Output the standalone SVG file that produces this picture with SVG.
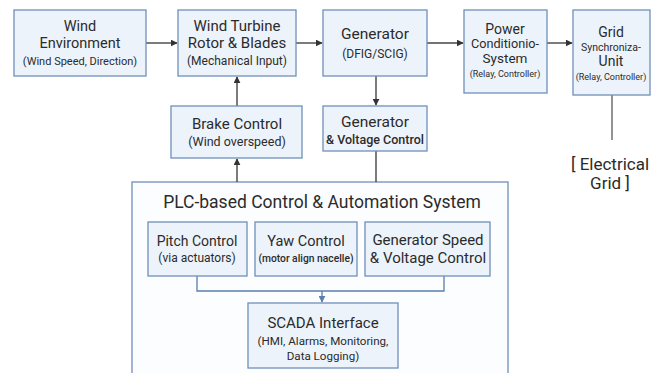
<svg xmlns="http://www.w3.org/2000/svg" width="651" height="373" viewBox="0 0 651 373">
<defs>
<style>
.box{fill:#edf3fb;stroke:#6f8fb8;stroke-width:1.3}
.plc{fill:#fbfdff;stroke:#6f8fb8;stroke-width:1.3}
text{font-family:Roboto,"Liberation Sans",sans-serif;fill:#2b2b2b;text-anchor:middle}
.t{font-size:15px}
.s{font-size:11px}
.xs{font-size:9px}
.c{fill:none;stroke:#444;stroke-width:1.4}
.cb{fill:none;stroke:#5a7fae;stroke-width:1.3}
</style>
<marker id="ah" viewBox="0 0 10 10" refX="9" refY="5" markerWidth="7" markerHeight="7" orient="auto" markerUnits="userSpaceOnUse">
<path d="M0,0L10,5L0,10z" fill="#333"/>
</marker>
<marker id="ahb" viewBox="0 0 10 10" refX="9" refY="5" markerWidth="7" markerHeight="7" orient="auto" markerUnits="userSpaceOnUse">
<path d="M0,0L10,5L0,10z" fill="#5a7fae"/>
</marker>
</defs>
<rect width="651" height="373" fill="#fff"/>

<g id="plc">
<rect class="plc" x="132" y="182" width="376" height="200"/>
<text x="322" y="208" style="font-size:17.5px">PLC-based Control &amp; Automation System</text>
</g>

<g id="connectors">
<line class="c" x1="146" y1="43" x2="177" y2="43" marker-end="url(#ah)"/>
<line class="c" x1="296" y1="43" x2="322" y2="43" marker-end="url(#ah)"/>
<line class="c" x1="427" y1="43" x2="463" y2="43" marker-end="url(#ah)"/>
<line class="c" x1="547" y1="43" x2="572" y2="43" marker-end="url(#ah)"/>
<line class="c" x1="237" y1="106" x2="237" y2="77" marker-end="url(#ah)"/>
<line class="c" x1="237" y1="182" x2="237" y2="159" marker-end="url(#ah)"/>
<line class="c" x1="376" y1="76" x2="376" y2="105" marker-end="url(#ah)"/>
<line class="c" x1="376" y1="151" x2="376" y2="182"/>
<line class="c" x1="612" y1="95" x2="612" y2="140" style="stroke:#666"/>
<path class="cb" d="M197,276V291H444V276"/>
<line class="cb" x1="322" y1="291" x2="322" y2="302" marker-end="url(#ahb)"/>
</g>

<g id="wind-environment">
<rect class="box" x="14" y="10" width="132" height="66"/>
<text x="80" y="31" style="font-size:14.5px">Wind</text>
<text x="80" y="48" style="font-size:14.5px">Environment</text>
<text class="s" x="80" y="65">(Wind Speed, Direction)</text>
</g>

<g id="wind-turbine">
<rect class="box" x="178" y="10" width="118" height="66"/>
<text class="t" x="237" y="31">Wind Turbine</text>
<text class="t" x="237" y="48">Rotor &amp; Blades</text>
<text x="237" y="65" style="font-size:12px">(Mechanical Input)</text>
</g>

<g id="generator">
<rect class="box" x="323" y="10" width="104" height="66"/>
<text x="375" y="39" style="font-size:15.5px">Generator</text>
<text x="375" y="58" style="font-size:12px">(DFIG/SCIG)</text>
</g>

<g id="power-conditioning">
<rect class="box" x="464" y="10" width="83" height="83"/>
<text x="505" y="34" style="font-size:14px">Power</text>
<text x="505" y="48" style="font-size:12.7px">Conditionio-</text>
<text x="505" y="63" style="font-size:13.5px">System</text>
<text class="xs" x="505" y="77">(Relay, Controller)</text>
</g>

<g id="grid-sync">
<rect class="box" x="573" y="10" width="77" height="85"/>
<text x="611" y="37" style="font-size:14px">Grid</text>
<text x="611" y="51" style="font-size:10.5px">Synchroniza-</text>
<text x="611" y="66" style="font-size:14px">Unit</text>
<text class="xs" x="611" y="80">(Relay, Controller)</text>
</g>

<g id="electrical-grid">
<text x="610" y="170" style="font-size:17px">[ Electrical</text>
<text x="610" y="189" style="font-size:17px">Grid ]</text>
</g>

<g id="brake-control">
<rect class="box" x="171" y="106" width="131" height="52"/>
<text class="t" x="237" y="129">Brake Control</text>
<text x="237" y="146" style="font-size:12.5px">(Wind overspeed)</text>
</g>

<g id="gen-voltage-control">
<rect class="box" x="323" y="106" width="104" height="45"/>
<text x="375" y="127" style="font-size:15.5px">Generator</text>
<text x="375" y="144" style="font-size:12.5px;font-weight:500">&amp; Voltage Control</text>
</g>

<g id="pitch-control">
<rect class="box" x="148" y="222" width="99" height="54"/>
<text x="197" y="246" style="font-size:14px">Pitch Control</text>
<text x="197" y="262" style="font-size:12px">(via actuators)</text>
</g>

<g id="yaw-control">
<rect class="box" x="255" y="222" width="102" height="54"/>
<text x="306" y="246" style="font-size:14.5px">Yaw Control</text>
<text x="306" y="262" style="font-size:10.3px;font-weight:500">(motor align nacelle)</text>
</g>

<g id="gen-speed-control">
<rect class="box" x="365" y="222" width="125" height="54"/>
<text class="t" x="428" y="245">Generator Speed</text>
<text class="t" x="428" y="263">&amp; Voltage Control</text>
</g>

<g id="scada">
<rect class="box" x="248" y="303" width="150" height="65"/>
<text class="t" x="323" y="328">SCADA Interface</text>
<text x="323" y="345" style="font-size:11.6px">(HMI, Alarms, Monitoring,</text>
<text x="323" y="360" style="font-size:11.6px">Data Logging)</text>
</g>
</svg>
